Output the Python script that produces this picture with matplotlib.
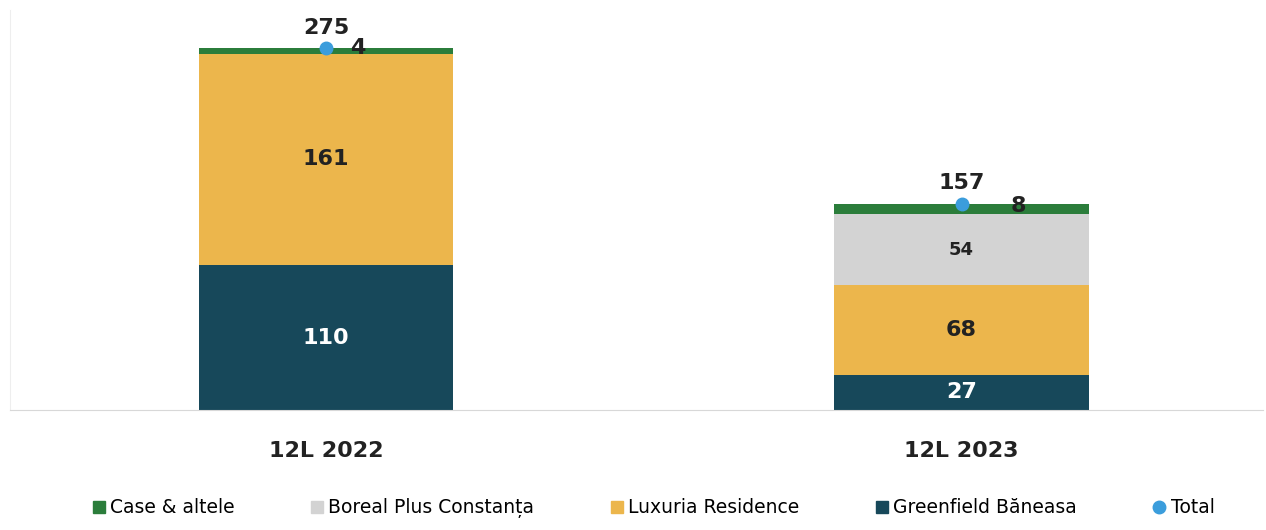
import numpy as np
import matplotlib.pyplot as plt
from matplotlib.lines import Line2D

FONTSIZE = 16

categories = ['12L 2022', '12L 2023']
greenfield = [110, 27]
luxuria = [161, 68]
boreal = [0, 54]
case_altele = [4, 8]

series_names = ['Case & altele', 'Boreal Plus Constanța', 'Luxuria Residence', 'Greenfield Băneasa']
colors = {'green': '#2b7d3b', 'grey': '#d3d3d3', 'yellow': '#ecb64c', 'teal': '#17485a', 'dot': '#3b9ddc'}
small_offsets = [0.05, 0.09]  # where the small top labels sit, right of the marker

x = np.arange(len(categories))
totals = np.array(greenfield) + np.array(luxuria) + np.array(boreal) + np.array(case_altele)

fig = plt.figure(figsize=(12.66, 5.3), dpi=100)
ax = fig.add_axes([0.008, 0.226, 0.99, 0.755])

w = 0.40
b0 = np.zeros(len(x))
layers = [(greenfield, colors['teal'], 'white'),
          (luxuria, colors['yellow'], '#222222'),
          (boreal, colors['grey'], '#222222'),
          (case_altele, colors['green'], '#222222')]

for i, (vals, col, tcol) in enumerate(layers):
    vals = np.array(vals)
    ax.bar(x, vals, w, bottom=b0, color=col, edgecolor='none')
    if i < 3:
        for xi, v, b in zip(x, vals, b0):
            if v > 0:
                fs = 13 if i == 2 else FONTSIZE
                ax.text(xi, b + v / 2, str(v), ha='center', va='center',
                        color=tcol, fontsize=fs, fontweight='bold')
    b0 = b0 + vals

for xi, v, t, off in zip(x, case_altele, totals, small_offsets):
    ax.text(xi + off, t - v / 2 + 2, str(v), ha='center', va='center',
            color='#222222', fontsize=FONTSIZE, fontweight='bold')

ax.plot(x, totals, 'o', color=colors['dot'], markersize=9, linestyle='none', zorder=5)
for xi, t in zip(x, totals):
    ax.text(xi, t + 8, str(t), ha='center', va='bottom', color='#222222',
            fontsize=FONTSIZE, fontweight='bold')

ax.set_xlim(-0.497, 1.475)
ax.set_ylim(0, 304)
ax.set_yticks([])
ax.set_xticks(x)
ax.set_xticklabels(categories, fontsize=FONTSIZE, fontweight='bold', color='#222222')
ax.tick_params(axis='x', length=0, pad=22)
for s in ['top', 'right']:
    ax.spines[s].set_visible(False)
ax.spines['bottom'].set_color('#d8d8d8')
ax.spines['left'].set_color('#eeeeee')

handles = [Line2D([], [], marker='s', linestyle='none', color=colors['green'], markersize=9),
           Line2D([], [], marker='s', linestyle='none', color=colors['grey'], markersize=9),
           Line2D([], [], marker='s', linestyle='none', color=colors['yellow'], markersize=9),
           Line2D([], [], marker='s', linestyle='none', color=colors['teal'], markersize=9),
           Line2D([], [], marker='o', linestyle='none', color=colors['dot'], markersize=9)]
fig.legend(handles, series_names + ['Total'], loc='lower center', bbox_to_anchor=(0.515, -0.01),
           ncol=5, frameon=False, fontsize=13.5, handletextpad=0.1, columnspacing=3.9,
           handlelength=1.0)

plt.savefig('out.png')
